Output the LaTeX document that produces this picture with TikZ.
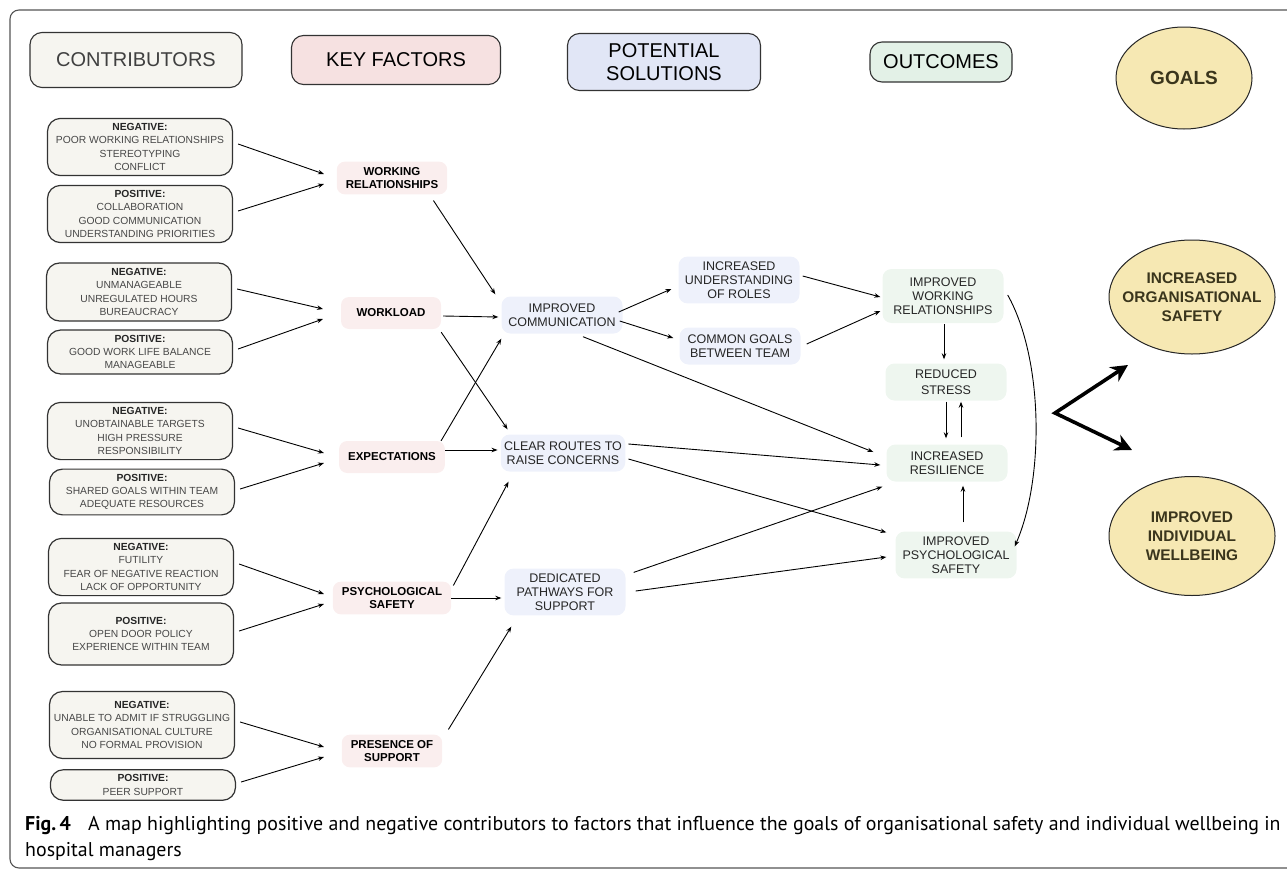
\documentclass[tikz,border=0pt]{standalone}
\usepackage{fontspec}
\setmainfont{Liberation Sans}
\newfontfamily\capfont{PT Sans}
\usepackage{xcolor}
\usepackage{tikz}
\usetikzlibrary{positioning,arrows.meta,calc,shapes.geometric}
\definecolor{contribfill}{HTML}{F6F5F0}
\definecolor{keyfill}{HTML}{F6E1E1}
\definecolor{factorfill}{HTML}{FAEEEE}
\definecolor{potfill}{HTML}{E1E6F6}
\definecolor{solfill}{HTML}{EEF1FB}
\definecolor{outhfill}{HTML}{E3F1E7}
\definecolor{outfill}{HTML}{EEF6EF}
\definecolor{goalfill}{HTML}{F6E8B3}
\definecolor{goaltext}{HTML}{3A351C}
\definecolor{framecol}{HTML}{555555}

\begin{document}
\begin{tikzpicture}[x=1pt, y=-1pt,
  header/.style={draw=black!80, line width=1.1pt, rounded corners=12pt, align=center, font=\fontsize{20}{23}\selectfont},
  contrib/.style={draw=black!80, fill=contribfill, line width=1.2pt, rounded corners=13pt, minimum width=185pt, inner ysep=5pt, align=center, text=black!72, font=\fontsize{10.3}{13.3}\selectfont},
  factor/.style={fill=factorfill, rounded corners=8pt, minimum width=100pt, minimum height=32pt, inner xsep=9pt, inner ysep=6pt, align=center, font=\bfseries\fontsize{11.5}{12.5}\selectfont},
  solution/.style={fill=solfill, rounded corners=9pt, minimum width=121pt, minimum height=37pt, inner ysep=5pt, align=center, text=black!85, font=\fontsize{12.5}{14}\selectfont},
  outcome/.style={solution, fill=outfill},
  goal/.style={ellipse, draw=black!85, fill=goalfill, line width=1pt, inner xsep=-15pt, inner ysep=0pt, align=center, text=goaltext, font=\bfseries\fontsize{15.4}{19}\selectfont},
  link/.style={-{Stealth[length=6pt,width=4.5pt]}, line width=0.9pt},
  goalarrow/.style={{Stealth[length=17pt,width=17pt]}-{Stealth[length=17pt,width=17pt]}, line width=3.6pt, line join=miter}]
\useasboundingbox (0,0) rectangle (1287,870);
\draw[framecol, line width=1.1pt, rounded corners=9pt] (10,10) rectangle (1320,868);

\node[header, fill=contribfill, text=black!75, minimum width=212pt, minimum height=55pt] (hcontrib) at (136,60) {CONTRIBUTORS};
\node[header, fill=keyfill, minimum width=209pt, minimum height=49pt] (hkey) at (396,60) {KEY FACTORS};
\node[header, fill=potfill, minimum width=193pt, minimum height=57pt] (hpot) at (664,62) {POTENTIAL\\SOLUTIONS};
\node[header, fill=outhfill, minimum width=142pt, minimum height=40pt] (hout) at (941,62) {OUTCOMES};
\node[goal, minimum width=136pt, minimum height=102pt, font=\bfseries\fontsize{19}{22}\selectfont] (hgoals) at (1184,78) {GOALS};

\node[contrib] (wrneg) at (140,147) {{\bfseries\color{black!85}NEGATIVE:}\\POOR WORKING RELATIONSHIPS\\STEREOTYPING\\CONFLICT};
\node[contrib] (wrpos) at (140,214) {{\bfseries\color{black!85}POSITIVE:}\\COLLABORATION\\GOOD COMMUNICATION\\UNDERSTANDING PRIORITIES};
\node[contrib, minimum height=58pt] (wlneg) at (139,292) {{\bfseries\color{black!85}NEGATIVE:}\\UNMANAGEABLE\\UNREGULATED HOURS\\BUREAUCRACY};
\node[contrib] (wlpos) at (140,352) {{\bfseries\color{black!85}POSITIVE:}\\GOOD WORK LIFE BALANCE\\MANAGEABLE};
\node[contrib] (exneg) at (140,431) {{\bfseries\color{black!85}NEGATIVE:}\\UNOBTAINABLE TARGETS\\HIGH PRESSURE\\RESPONSIBILITY};
\node[contrib] (expos) at (142,492) {{\bfseries\color{black!85}POSITIVE:}\\SHARED GOALS WITHIN TEAM\\ADEQUATE RESOURCES};
\node[contrib] (psneg) at (141,567) {{\bfseries\color{black!85}NEGATIVE:}\\FUTILITY\\FEAR OF NEGATIVE REACTION\\LACK OF OPPORTUNITY};
\node[contrib, minimum height=62pt] (pspos) at (141,634) {{\bfseries\color{black!85}POSITIVE:}\\OPEN DOOR POLICY\\EXPERIENCE WITHIN TEAM};
\node[contrib, minimum height=67pt] (prneg) at (142,725) {{\bfseries\color{black!85}NEGATIVE:}\\UNABLE TO ADMIT IF STRUGGLING\\ORGANISATIONAL CULTURE\\NO FORMAL PROVISION};
\node[contrib] (prpos) at (143,785) {{\bfseries\color{black!85}POSITIVE:}\\PEER SUPPORT};

\node[factor] (wr) at (392,178) {WORKING\\RELATIONSHIPS};
\node[factor] (wl) at (391,313) {WORKLOAD};
\node[factor] (ex) at (392,457) {EXPECTATIONS};
\node[factor] (ps) at (392,598) {PSYCHOLOGICAL\\SAFETY};
\node[factor] (pr) at (392,751) {PRESENCE OF\\SUPPORT};

\node[solution] (ic) at (562,315) {IMPROVED\\COMMUNICATION};
\node[solution] (cr) at (563,453) {CLEAR ROUTES TO\\RAISE CONCERNS};
\node[solution] (dp) at (565,592) {DEDICATED\\PATHWAYS FOR\\SUPPORT};
\node[solution] (iur) at (739,280) {INCREASED\\UNDERSTANDING\\OF ROLES};
\node[solution] (cg) at (740,346) {COMMON GOALS\\BETWEEN TEAM};

\node[outcome, minimum height=54pt] (iwr) at (943,296) {IMPROVED\\WORKING\\RELATIONSHIPS};
\node[outcome] (rs) at (946,382) {REDUCED\\[2pt]STRESS};
\node[outcome] (ires) at (947,463) {INCREASED\\RESILIENCE};
\node[outcome] (ips) at (956,555) {IMPROVED\\PSYCHOLOGICAL\\SAFETY};

\node[goal, minimum width=166pt, minimum height=114pt] (orgsafe) at (1192,297) {INCREASED\\ORGANISATIONAL\\SAFETY};
\node[goal, minimum width=166pt, minimum height=119pt] (wellbeing) at (1192,536) {IMPROVED\\INDIVIDUAL\\WELLBEING};

\coordinate (fork) at (1055,413);
\coordinate (forkup) at (1128,365);
\coordinate (forkdown) at (1132,450);

\draw[link] ($(wrneg.east)+(5,-3)$) -- ($(wr.center)+(-68,-4)$);
\draw[link] ($(wrpos.east)+(5,-3)$) -- ($(wr.center)+(-68,6)$);
\draw[link] ($(wlneg.east)+(5,-3)$) -- ($(wl.center)+(-68,-4)$);
\draw[link] ($(wlpos.east)+(5,-3)$) -- ($(wl.center)+(-68,6)$);
\draw[link] ($(exneg.east)+(5,-3)$) -- ($(ex.center)+(-68,-4)$);
\draw[link] ($(expos.east)+(5,-3)$) -- ($(ex.center)+(-68,6)$);
\draw[link] ($(psneg.east)+(5,-3)$) -- ($(ps.center)+(-68,-4)$);
\draw[link] ($(pspos.east)+(5,-3)$) -- ($(ps.center)+(-68,6)$);
\draw[link] ($(prneg.east)+(5,-3)$) -- ($(pr.center)+(-68,-4)$);
\draw[link] ($(prpos.east)+(5,-3)$) -- ($(pr.center)+(-68,6)$);

\draw[link] ($(wr.south east)+(-14,6)$) -- ($(ic.north west)+(-6,-2)$);
\draw[link] ($(wl.east)+(2,3)$) -- ($(ic.west)+(-3,2)$);
\draw[link] ($(wl.south east)+(0,3)$) -- ($(cr.north west)+(7,-5)$);
\draw[link] ($(ex.north east)+(-4,0)$) -- ($(ic.south west)+(0,5)$);
\draw[link] ($(ex.east)+(0,-7)$) -- ($(cr.west)+(-3,-3)$);
\draw[link] ($(ps.north east)+(2,4)$) -- ($(cr.south west)+(8,10)$);
\draw[link] (ps.east) -- ($(dp.west)+(-3,6)$);
\draw[link] ($(pr.north east)+(6,-5)$) -- ($(dp.south west)+(7,11)$);

\draw[link] ($(ic.east)+(-4,-3)$) -- ($(iur.west)+(-7,9)$);
\draw[link] ($(ic.east)+(-3,6)$) -- ($(cg.west)+(-6,-8)$);
\draw[link] ($(ic.south)+(21,3)$) -- ($(ires.west)+(-13,-11)$);
\draw[link] ($(iur.east)+(3,-4)$) -- ($(iwr.west)+(-2,1)$);
\draw[link] ($(cg.east)+(6,-2)$) -- ($(iwr.west)+(-2,15)$);
\draw[link] ($(cr.east)+(3,-9)$) -- ($(ires.west)+(-6,2)$);
\draw[link] ($(cr.east)+(3,6)$) -- ($(ips.north west)+(-9,1)$);
\draw[link] ($(dp.north east)+(8,4)$) -- ($(ires.south west)+(-4,5)$);
\draw[link] ($(dp.east)+(10,-1)$) -- ($(ips.west)+(-9,2)$);

\draw[link] ($(iwr.south)+(1,1)$) -- ($(rs.north)+(-2,-4)$);
\draw[link] ($(rs.south)+(0,1)$) -- ($(ires.north)+(-1,-6)$);
\draw[link] ($(ires.north)+(14,-7)$) -- ($(rs.south)+(15,1)$);
\draw[link] ($(ips.north)+(7,-9)$) -- ($(ires.south)+(16,4)$);
\draw[link] ($(iwr.east)+(4,-1)$) .. controls (1044,360) and (1044,480) .. ($(ips.north east)+(-2,15)$);

\draw[goalarrow] (forkup) -- (fork) -- (forkdown);

\node[anchor=base west, inner sep=0pt, font=\capfont\fontsize{19.9}{23}\selectfont] (cap1) at (25,830) {\textbf{Fig.\,4}\hspace{0.6em} A map highlighting positive and negative contributors to factors that influence the goals of organisational safety and individual wellbeing in};
\node[anchor=base west, inner sep=0pt, font=\capfont\fontsize{19.9}{23}\selectfont] (cap2) at (25,856) {hospital managers};
\end{tikzpicture}
\end{document}
